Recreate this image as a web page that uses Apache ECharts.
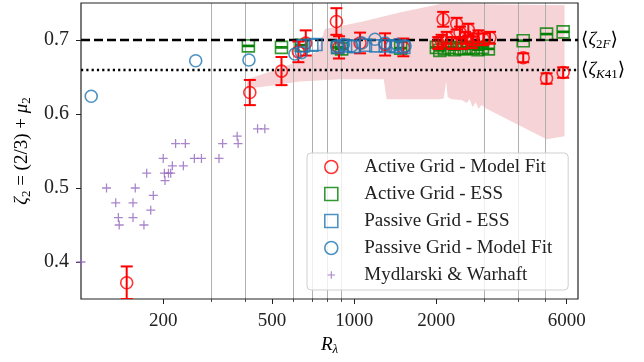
<!DOCTYPE html>
<html>
<head>
<meta charset="utf-8">
<script src="https://cdn.jsdelivr.net/npm/echarts@6/dist/echarts.min.js"></script>
<style>
html,body{margin:0;padding:0;background:#fff;}
#c{width:644px;height:362px;}
</style>
</head>
<body>
<div id="c"></div>
<script>
// ---------------- data ----------------
const xMajorTicks = [200, 500, 1000, 2000, 6000];
const xMinorTicks = [300, 400, 600, 700, 800, 900, 3000, 4000, 5000];
const yTicks = [0.4, 0.5, 0.6, 0.7];

const activeFitR    = [147, 415, 542, 625, 665, 861, 880, 1051, 1298, 1514,
                       2032, 2090, 2118, 2183, 2276, 2373, 2441, 2480, 2545, 2618, 2700, 2731, 2850, 2972, 3142,
                       4159, 5063, 5823];
const activeFitZeta = [0.372, 0.629, 0.658, 0.684, 0.696, 0.725, 0.690, 0.696, 0.694, 0.690,
                       0.696, 0.699, 0.728, 0.703, 0.696, 0.722, 0.710, 0.696, 0.703, 0.714, 0.697, 0.701, 0.705, 0.701, 0.703,
                       0.676, 0.648, 0.656];
const activeFitErr  = [0.022, 0.017, 0.019, 0.014, 0.017, 0.018, 0.015, 0.014, 0.015, 0.012,
                       0.008, 0.008, 0.010, 0.008, 0.008, 0.008, 0.008, 0.008, 0.008, 0.008, 0.008, 0.008, 0.008, 0.008, 0.008,
                       0.006, 0.007, 0.007];

const activeEssR    = [410, 542, 640, 870, 900, 1480,
                       2000, 2060, 2140, 2230, 2330, 2430, 2530, 2630, 2730, 2840, 2950, 3100,
                       4159, 5063, 5823];
const activeEssZeta = [0.692, 0.690, 0.693, 0.690, 0.688, 0.689,
                       0.690, 0.686, 0.688, 0.690, 0.687, 0.689, 0.688, 0.690, 0.689, 0.687, 0.690, 0.688,
                       0.699, 0.708, 0.711];
const activeEssErr  = [0.0008, 0.0008, 0.0008, 0.0008, 0.0008, 0.0008,
                       0.0008, 0.0008, 0.0008, 0.0008, 0.0008, 0.0008, 0.0008, 0.0008, 0.0008, 0.0008, 0.0008, 0.0008,
                       0.0008, 0.0008, 0.0008];

const passiveEssR    = [650, 700, 725, 870, 930, 1000, 1100, 1200, 1300, 1420, 1520];
const passiveEssZeta = [0.692, 0.693, 0.694, 0.690, 0.692, 0.691, 0.693, 0.692, 0.692, 0.691, 0.690];

const passiveFitR    = [109, 263, 412, 607, 641, 863, 913, 980, 1067, 1192, 1298, 1373, 1434, 1535];
const passiveFitZeta = [0.624, 0.672, 0.673, 0.681, 0.683, 0.692, 0.694, 0.692, 0.696, 0.701, 0.696, 0.692, 0.694, 0.692];

const mwR    = [100, 124, 134, 137, 138, 155, 155, 158, 170, 174, 180, 184, 200, 202, 203, 209, 213, 216,
                222, 237, 241, 260, 276, 320, 330, 373, 376, 443, 471];
const mwZeta = [0.40, 0.50, 0.48, 0.46, 0.45, 0.46, 0.48, 0.50, 0.45, 0.52, 0.47, 0.49, 0.54, 0.52, 0.51, 0.52, 0.52, 0.53,
                0.56, 0.53, 0.56, 0.54, 0.54, 0.54, 0.56, 0.57, 0.56, 0.58, 0.58];

// shaded uncertainty band
const bandUpperR = [405, 512, 632, 736, 781, 1048, 1494, 2091, 5892];
const bandUpper  = [0.647, 0.659, 0.672, 0.685, 0.715, 0.724, 0.738, 0.749, 0.747];
const bandLowerR = [405, 512, 632, 886, 1283, 1316, 2056, 2127, 2173, 2200, 2275, 2475, 2581, 2647, 2715, 2785, 2857, 2929, 3055, 5064, 5892];
const bandLower  = [0.634, 0.639, 0.644, 0.647, 0.647, 0.620, 0.620, 0.621, 0.644, 0.623, 0.620, 0.619, 0.615, 0.620, 0.609, 0.616, 0.607, 0.612, 0.607, 0.566, 0.570];

const zeta2F = 0.700;
const zetaK41 = 0.660;

// ---------------- chart ----------------
const SERIF = '"Liberation Serif","DejaVu Serif",serif';
const RED = '#ff0000', GREEN = '#008000', BLUE = '#1f77b4', PURPLE = '#9467bd';
const PLUS = 'path://M0,4.3H10V5.7H0Z M4.3,0H5.7V10H4.3Z';
const PLUS_LEG = 'path://M0,0M14,14 M3,6.4H11V7.6H3Z M6.4,3H7.6V11H6.4Z';
const SQUARE_LEG = 'path://M0,0H10V10H0Z';

const zip = (a, b, c) => a.map((v, i) => c ? [v, b[i], c[i]] : [v, b[i]]);

function errRender(color, cap, lw) {
  return function (params, api) {
    const x = api.value(0), y = api.value(1), e = api.value(2);
    const t = api.coord([x, y + e]);
    const b = api.coord([x, y - e]);
    const st = {stroke: color, lineWidth: lw};
    return {type: 'group', children: [
      {type: 'line', shape: {x1: t[0], y1: t[1], x2: b[0], y2: b[1]}, style: st},
      {type: 'line', shape: {x1: t[0] - cap, y1: t[1], x2: t[0] + cap, y2: t[1]}, style: st},
      {type: 'line', shape: {x1: b[0] - cap, y1: b[1], x2: b[0] + cap, y2: b[1]}, style: st}
    ]};
  };
}

const chart = echarts.init(document.getElementById('c'), null, {renderer: 'canvas'});
const subRich = {
  i: {fontFamily: SERIF, fontSize: 19, fontStyle: 'italic', color: '#000'},
  n: {fontFamily: SERIF, fontSize: 19, color: '#000'},
  s: {fontFamily: SERIF, fontSize: 13, color: '#000', padding: [9, 0, 0, 0]},
  si: {fontFamily: SERIF, fontSize: 13, fontStyle: 'italic', color: '#000', padding: [9, 0, 0, 0]}
};

chart.setOption({
  animation: false,
  backgroundColor: '#fff',
  grid: {left: 81, top: 3, width: 497, height: 296, show: true, borderColor: '#222', borderWidth: 1.2, backgroundColor: 'transparent', z: 3},
  legend: {
    left: 307, top: 153, orient: 'vertical', align: 'left',
    padding: [4, 16, 5, 17], itemGap: 7, itemWidth: 44, itemHeight: 13,
    backgroundColor: 'rgba(255,255,255,0.8)', borderColor: '#d0d0d0', borderWidth: 1, borderRadius: 4,
    textStyle: {fontFamily: SERIF, fontSize: 19, color: '#222', lineHeight: 20, padding: [0, 0, 0, 6]},
    data: [
      {name: 'Active Grid - Model Fit', icon: 'circle', itemStyle: {color: 'transparent', borderColor: RED, borderWidth: 1.6}},
      {name: 'Active Grid - ESS', icon: SQUARE_LEG, itemStyle: {color: 'transparent', borderColor: GREEN, borderWidth: 1.6}},
      {name: 'Passive Grid - ESS', icon: SQUARE_LEG, itemStyle: {color: 'transparent', borderColor: BLUE, borderWidth: 1.6}},
      {name: 'Passive Grid - Model Fit', icon: 'circle', itemStyle: {color: 'transparent', borderColor: BLUE, borderWidth: 1.6}},
      {name: 'Mydlarski & Warhaft', icon: PLUS_LEG, itemStyle: {color: PURPLE, borderWidth: 0}}
    ],
    selectedMode: false, z: 20
  },
  xAxis: [{
    type: 'log', logBase: 10, min: 100, max: 6600, gridIndex: 0,
    axisLine: {show: false},
    axisTick: {show: true, length: 5, lineStyle: {color: '#222', width: 1}, customValues: xMajorTicks},
    axisLabel: {customValues: xMajorTicks, margin: 13, fontFamily: SERIF, fontSize: 19, color: '#222', formatter: v => String(Math.round(v))},
    splitLine: {show: false},
    name: '{i|R}{si|λ}', nameLocation: 'middle', nameGap: 31,
    nameTextStyle: {rich: subRich}
  }, {
    type: 'log', logBase: 10, min: 100, max: 6600, gridIndex: 0, position: 'bottom',
    axisLine: {show: false},
    axisTick: {show: true, length: 3, lineStyle: {color: '#222', width: 0.8}, customValues: xMinorTicks},
    axisLabel: {show: false, customValues: xMinorTicks},
    splitLine: {show: true, lineStyle: {color: '#b0b0b0', width: 1}}
  }],
  yAxis: {
    type: 'value', min: 0.35, max: 0.75,
    axisLine: {show: false},
    axisTick: {show: true, length: 5, lineStyle: {color: '#222', width: 1}, customValues: yTicks},
    axisLabel: {customValues: yTicks, margin: 12, fontFamily: SERIF, fontSize: 20, color: '#222', formatter: v => v.toFixed(1)},
    splitLine: {show: false},
    name: '{i|ζ}{s|2}{n| = (2/3) + }{i|μ}{s|2}', nameLocation: 'middle', nameGap: 40,
    nameTextStyle: {rich: subRich}
  },
  series: [
    {
      type: 'custom', name: 'band', z: -1, clip: true, silent: true,
      data: [[bandUpperR[0], bandUpper[0]]],
      renderItem: function (params, api) {
        const pts = [];
        for (let i = 0; i < bandUpperR.length; i++) pts.push(api.coord([bandUpperR[i], bandUpper[i]]));
        for (let i = bandLowerR.length - 1; i >= 0; i--) pts.push(api.coord([bandLowerR[i], bandLower[i]]));
        return {type: 'polygon', shape: {points: pts}, style: {fill: '#f5d3d6'}};
      }
    },
    {
      type: 'scatter', name: 'refs', data: [], z: 2, silent: true,
      markLine: {
        silent: true, symbol: 'none',
        data: [
          {yAxis: zeta2F, lineStyle: {color: '#000', type: [9, 4], width: 2.3},
           label: {show: true, position: 'end', distance: 3, formatter: '{n|⟨}{i|ζ}{s|2}{si|F}{n|⟩}', rich: subRich}},
          {yAxis: zetaK41, lineStyle: {color: '#000', type: [2.2, 3.1], width: 2.3},
           label: {show: true, position: 'end', distance: 3, formatter: '{n|⟨}{i|ζ}{si|K}{s|41}{n|⟩}', rich: subRich}}
        ]
      }
    },
    {
      type: 'custom', name: 'Active Grid - ESS err', z: 4, clip: true, silent: true,
      data: zip(activeEssR, activeEssZeta, activeEssErr), encode: {x: 0, y: 1},
      renderItem: errRender(GREEN, 6, 1.5)
    },
    {
      type: 'scatter', name: 'Active Grid - ESS', z: 4, symbol: 'rect', symbolSize: 12,
      itemStyle: {color: 'transparent', borderColor: GREEN, borderWidth: 1.6},
      data: zip(activeEssR, activeEssZeta)
    },
    {
      type: 'custom', name: 'Active Grid - Model Fit err', z: 5, clip: true, silent: true,
      data: zip(activeFitR, activeFitZeta, activeFitErr), encode: {x: 0, y: 1},
      renderItem: errRender(RED, 6, 2)
    },
    {
      type: 'scatter', name: 'Active Grid - Model Fit', z: 5, symbol: 'circle', symbolSize: 12,
      itemStyle: {color: 'transparent', borderColor: RED, borderWidth: 1.6},
      data: zip(activeFitR, activeFitZeta)
    },
    {
      type: 'scatter', name: 'Passive Grid - ESS', z: 6, symbol: 'rect', symbolSize: 12,
      itemStyle: {color: 'transparent', borderColor: BLUE, borderWidth: 1.6},
      data: zip(passiveEssR, passiveEssZeta)
    },
    {
      type: 'scatter', name: 'Passive Grid - Model Fit', z: 7, symbol: 'circle', symbolSize: 12,
      itemStyle: {color: 'transparent', borderColor: BLUE, borderWidth: 1.6},
      data: zip(passiveFitR, passiveFitZeta)
    },
    {
      type: 'scatter', name: 'Mydlarski & Warhaft', z: 7, symbol: PLUS, symbolSize: 9,
      itemStyle: {color: PURPLE},
      data: zip(mwR, mwZeta)
    }
  ]
});
</script>
</body>
</html>
